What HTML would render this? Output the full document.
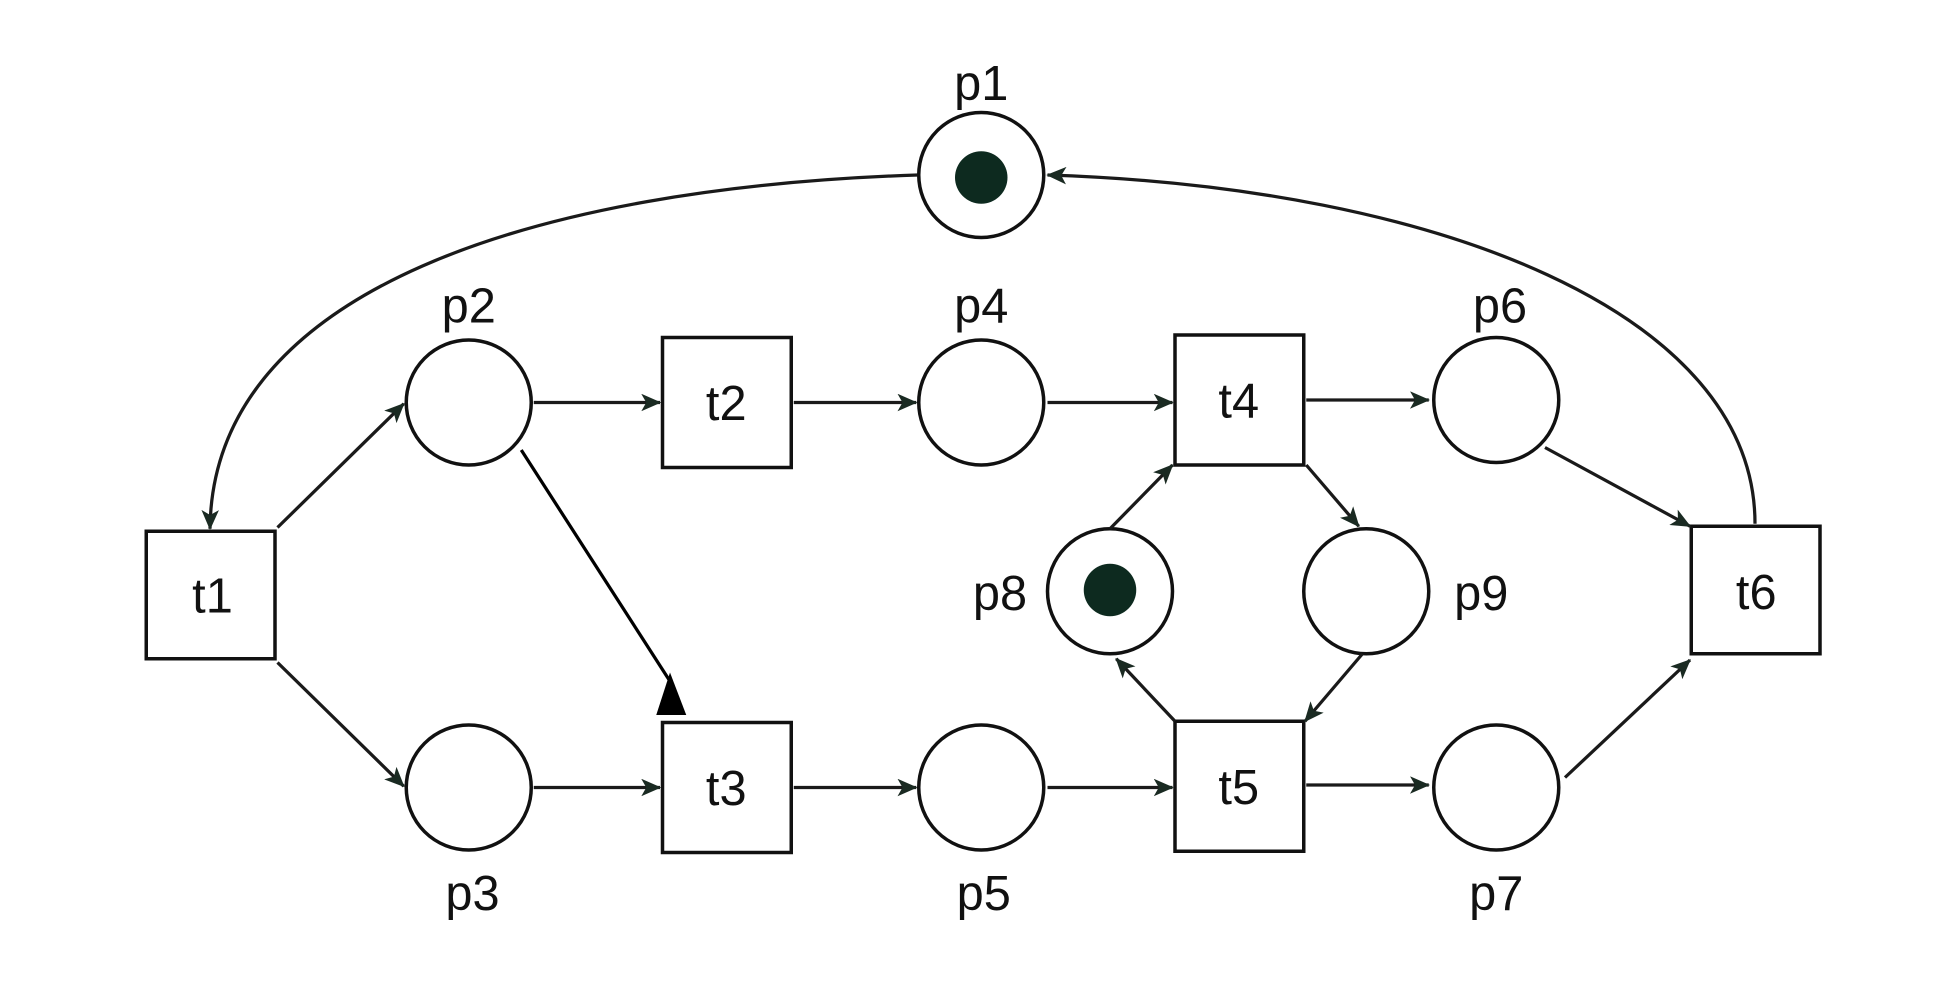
<!DOCTYPE html>
<html><head><style>html,body{margin:0;padding:0;background:#fff;}svg{display:block}</style></head>
<body>
<svg width="1950" height="1000" viewBox="0 0 1560 800" xmlns="http://www.w3.org/2000/svg">
<defs>
<marker id="a" markerWidth="16" markerHeight="14" refX="15" refY="7" orient="auto" markerUnits="userSpaceOnUse">
<path d="M0,0 L16,7 L0,14 L4,7 Z" fill="#1a2a22"/>
</marker>
</defs>
<g stroke="#111" stroke-width="2.8" fill="none">
<circle cx="785" cy="140" r="50"/>
<circle cx="375" cy="322" r="50"/>
<circle cx="785" cy="322" r="50"/>
<circle cx="1197" cy="320" r="50"/>
<circle cx="888" cy="473" r="50"/>
<circle cx="1093" cy="473" r="50"/>
<circle cx="375" cy="630" r="50"/>
<circle cx="785" cy="630" r="50"/>
<circle cx="1197" cy="630" r="50"/>
<rect x="530" y="270" width="103" height="104"/>
<rect x="940" y="268" width="103" height="104"/>
<rect x="117" y="425" width="103" height="102"/>
<rect x="1353" y="421" width="103" height="102"/>
<rect x="530" y="578" width="103" height="104"/>
<rect x="940" y="577" width="103" height="104"/>
</g>
<circle cx="785" cy="142" r="21" fill="#0d2a1f"/>
<circle cx="888" cy="472" r="21" fill="#0d2a1f"/>
<g stroke="#1a1a1a" stroke-width="2.6" fill="none" marker-end="url(#a)">
<path d="M734,140 C430,150 170,230 168,423"/>
<path d="M1404,419 C1404,250 1150,150 838,140"/>
<path d="M222,422 L323,323"/>
<path d="M222,530 L323,629"/>
<path d="M427,322 L528,322"/>
<path d="M635,322 L733,322"/>
<path d="M838,322 L938,322"/>
<path d="M1045,320 L1143,320"/>
<path d="M1236,358 L1352,421"/>
<path d="M1045,372 L1087,421"/>
<path d="M888,423 L938,372"/>
<path d="M940,577 L893,527"/>
<path d="M1090,523 L1044,577"/>
<path d="M1252,622 L1352,528"/>
<path d="M427,630 L528,630"/>
<path d="M635,630 L733,630"/>
<path d="M838,630 L938,630"/>
<path d="M1045,628 L1143,628"/>
</g>
<line x1="417" y1="360" x2="536" y2="545" stroke="#000" stroke-width="2.6"/>
<polygon points="536,538 549,572 525,572" fill="#000"/>
<g font-family="Liberation Sans, sans-serif" font-size="39" fill="#111" text-anchor="middle">
<text x="785" y="80">p1</text>
<text x="375" y="258">p2</text>
<text x="785" y="258">p4</text>
<text x="1200" y="258">p6</text>
<text x="378" y="728">p3</text>
<text x="787" y="728">p5</text>
<text x="1197" y="728">p7</text>
<text x="800" y="488">p8</text>
<text x="1185" y="488">p9</text>
<text x="170" y="490">t1</text>
<text x="581" y="336">t2</text>
<text x="991" y="334">t4</text>
<text x="1405" y="487">t6</text>
<text x="581" y="644">t3</text>
<text x="991" y="643">t5</text>
</g>
</svg>
</body></html>
